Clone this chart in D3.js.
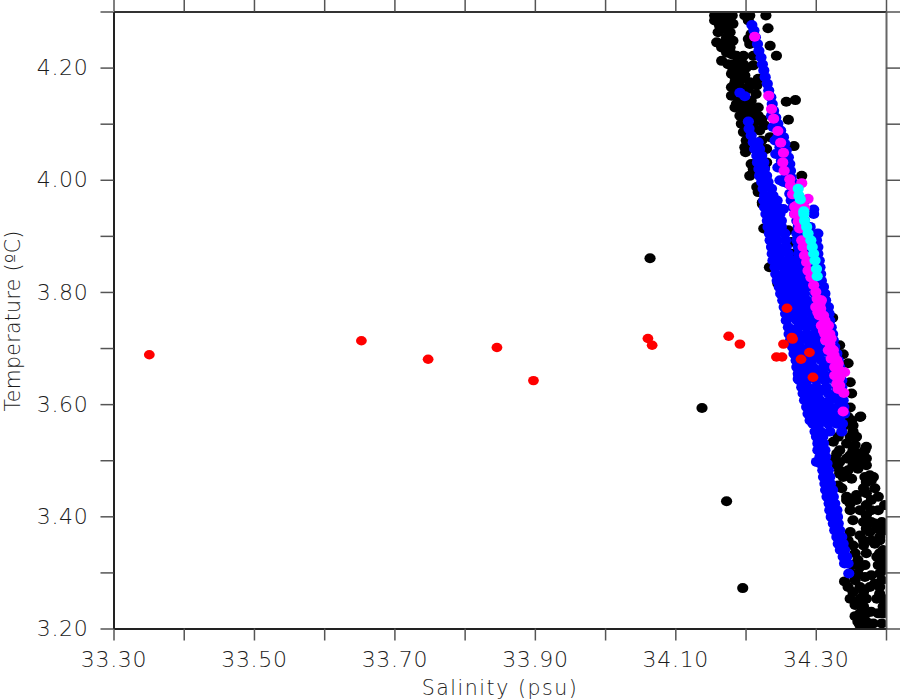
<!DOCTYPE html>
<html><head><meta charset="utf-8">
<style>html,body{margin:0;padding:0;background:#fff}svg{display:block}
.tick text{font-family:"DejaVu Sans",sans-serif;font-weight:200;font-size:22px;letter-spacing:0.7px;fill:#1c1c1c}
.lab{font-family:"DejaVu Sans",sans-serif;font-weight:200;font-size:20.5px;fill:#1c1c1c}
</style>
<script src="https://cdn.jsdelivr.net/npm/d3@7"></script>
</head><body><div id="c"></div>
<script>
const xTicks=[33.3,33.4,33.5,33.6,33.7,33.8,33.9,34.0,34.1,34.2,34.3,34.4];
const yTicks=[3.2,3.3,3.4,3.5,3.6,3.7,3.8,3.9,4.0,4.1,4.2,4.3];
const xLabelled=[33.3,33.5,33.7,33.9,34.1,34.3];
const yLabelled=[3.2,3.4,3.6,3.8,4.0,4.2];
const black=[[34.064,3.860],[34.138,3.593],[34.173,3.427],[34.196,3.272],
[34.156,4.293],[34.166,4.293],[34.175,4.293],[34.181,4.293],[34.199,4.293],[34.206,4.293],[34.229,4.293],[34.156,4.284],[34.168,4.284],[34.178,4.284],[34.204,4.284],[34.232,4.270],[34.161,4.263],[34.170,4.269],[34.178,4.263],[34.173,4.254],[34.159,4.245],[34.182,4.248],[34.170,4.245],[34.206,4.242],[34.235,4.239],[34.244,4.221],[34.173,4.227],[34.180,4.224],[34.197,4.221],[34.166,4.212],[34.182,4.206],[34.197,4.206],[34.211,4.221],[34.180,4.189],[34.192,4.195],[34.199,4.186],[34.185,4.174],[34.211,4.204],[34.218,4.180],[34.204,4.162],[34.215,4.153],[34.180,4.150],[34.194,4.165],[34.185,4.129],[34.211,4.126],[34.218,4.114],[34.258,4.139],[34.271,4.142],[34.261,4.107],[34.192,4.114],[34.194,4.100],[34.213,4.091],[34.197,4.085],[34.223,4.070],[34.235,4.076],[34.227,4.097],[34.200,4.049],[34.230,4.055],[34.269,4.060],[34.230,4.031],[34.206,4.007],[34.280,4.007],[34.218,3.978],[34.224,3.960],[34.208,4.028],[34.192,4.141],
[34.163,4.275],[34.173,4.278],[34.182,4.278],[34.208,4.260],[34.204,4.251],[34.166,4.236],[34.178,4.236],[34.187,4.221],[34.175,4.206],[34.189,4.206],[34.201,4.200],[34.182,4.198],[34.185,4.183],[34.194,4.180],[34.206,4.174],[34.216,4.168],[34.187,4.162],[34.180,4.165],[34.199,4.135],[34.208,4.141],[34.218,4.129],[34.187,4.135],[34.197,4.123],[34.206,4.114],[34.199,4.102],[34.216,4.105],[34.223,4.108],[34.220,4.088],[34.206,4.088],[34.201,4.070],[34.220,4.055],[34.199,4.058],[34.211,4.019],[34.227,4.022],[34.223,4.046],[34.216,3.987],
[34.224,3.957],[34.226,3.913],[34.261,3.910],[34.265,3.889],[34.268,3.868],[34.234,3.844],[34.246,3.815],[34.324,3.754],[34.334,3.705],[34.339,3.689],[34.346,3.673],[34.349,3.639],[34.351,3.619],[34.349,3.594],[34.364,3.578],[34.346,3.577],
[34.351,3.571],[34.353,3.551],[34.363,3.577],[34.344,3.530],[34.356,3.527],[34.372,3.524],[34.325,3.533],[34.330,3.512],[34.349,3.509],[34.363,3.512],[34.334,3.497],[34.353,3.497],[34.365,3.497],[34.334,3.482],[34.346,3.482],[34.360,3.485],[34.377,3.473],[34.334,3.476],[34.351,3.467],[34.372,3.461],[34.379,3.464],[34.332,3.455],[34.344,3.435],[34.358,3.438],[34.372,3.441],[34.389,3.435],[34.349,3.423],[34.372,3.420],[34.398,3.420],[34.353,3.393],[34.372,3.402],[34.384,3.387],[34.394,3.384],[34.349,3.372],[34.363,3.366],[34.377,3.372],[34.391,3.363],[34.398,3.375],[34.353,3.348],[34.368,3.348],[34.384,3.351],[34.396,3.340],[34.360,3.322],[34.387,3.328],[34.398,3.319],[34.363,3.310],[34.379,3.295],[34.370,3.292],[34.396,3.304],[34.341,3.284],[34.356,3.286],[34.384,3.280],[34.394,3.286],[34.353,3.265],[34.368,3.265],[34.391,3.262],[34.356,3.242],[34.379,3.230],[34.368,3.239],[34.396,3.239],[34.356,3.222],[34.368,3.218],[34.394,3.209],[34.382,3.209],[34.363,3.206],[34.375,3.203],
[34.341,3.562],[34.353,3.562],[34.332,3.542],[34.349,3.542],[34.358,3.542],[34.334,3.518],[34.353,3.518],[34.370,3.518],[34.327,3.503],[34.344,3.503],[34.360,3.503],[34.372,3.503],[34.330,3.491],[34.353,3.491],[34.372,3.491],[34.339,3.470],[34.370,3.470],[34.382,3.470],[34.337,3.450],[34.368,3.450],[34.384,3.450],[34.358,3.429],[34.379,3.429],[34.344,3.429],[34.349,3.411],[34.363,3.411],[34.379,3.411],[34.389,3.411],[34.368,3.390],[34.379,3.390],[34.394,3.390],[34.372,3.378],[34.387,3.378],[34.398,3.378],[34.346,3.357],[34.368,3.357],[34.379,3.357],[34.391,3.357],[34.356,3.334],[34.372,3.334],[34.391,3.334],[34.398,3.334],[34.353,3.313],[34.370,3.313],[34.389,3.313],[34.398,3.313],[34.349,3.298],[34.360,3.298],[34.391,3.298],[34.346,3.274],[34.363,3.274],[34.377,3.274],[34.391,3.274],[34.349,3.253],[34.363,3.253],[34.372,3.253],[34.387,3.253],[34.396,3.253],[34.363,3.227],[34.372,3.227],[34.389,3.227],[34.396,3.227],[34.360,3.212],[34.372,3.212]];
const blueRowTemps=[3.963,3.951,3.939,3.927,3.916,3.904,3.892,3.880,3.868,3.856,3.844,3.832,3.820,3.809,3.797,3.785,3.773,3.761,3.749,3.737,3.725,3.714,3.702,3.690,3.678,3.666,3.654,3.642,3.630,3.619,3.607,3.595,3.583,3.571,
3.589,3.577,3.565,3.551,3.542,3.530,3.518,3.506,3.494,3.482,3.470,3.458,3.447,3.435,3.423,3.411,3.399,3.387,3.375,3.363,3.351,3.340,3.328,3.316,3.298];
const blueRowSal=[[34.226,34.234,34.241,34.265,34.275,34.284],[34.227,34.237,34.246,34.268],[34.229,34.239,34.249,34.270,34.297],[34.231,34.242,34.251,34.273,34.284],[34.232,34.242,34.251,34.275,34.292],[34.234,34.244,34.256,34.277,34.292,34.303,34.273],[34.235,34.245,34.257,34.273,34.280,34.294,34.301],[34.237,34.246,34.258,34.275,34.282,34.294,34.303],[34.238,34.249,34.261,34.276,34.284,34.296,34.303],[34.239,34.251,34.262,34.268,34.277,34.287,34.299,34.305],[34.242,34.254,34.265,34.272,34.280,34.289,34.301,34.306],[34.243,34.255,34.265,34.272,34.282,34.292,34.303,34.307],[34.245,34.256,34.268,34.275,34.284,34.294,34.308],[34.248,34.258,34.270,34.276,34.287,34.296,34.311],[34.250,34.261,34.273,34.284,34.299,34.313],[34.253,34.263,34.275,34.287,34.301,34.314],[34.255,34.268,34.280,34.292,34.306,34.318],[34.257,34.270,34.282,34.294,34.308,34.319],[34.258,34.273,34.284,34.296,34.311,34.320],[34.261,34.275,34.287,34.299,34.313,34.322],[34.262,34.275,34.287,34.299,34.313,34.324],[34.264,34.277,34.289,34.301,34.315,34.325],[34.267,34.278,34.291,34.303,34.318,34.327],[34.269,34.280,34.292,34.306,34.320,34.330],[34.272,34.282,34.294,34.308,34.322,34.332],[34.273,34.284,34.296,34.311,34.322,34.334],[34.275,34.284,34.299,34.311,34.325,34.334],[34.277,34.287,34.301,34.313,34.327,34.337],[34.280,34.289,34.301,34.315,34.330,34.337],[34.282,34.292,34.303,34.318,34.330,34.339],[34.284,34.294,34.306,34.320,34.332,34.339],[34.287,34.295,34.306,34.320,34.332,34.340],[34.289,34.297,34.311,34.322,34.334,34.341],[34.292,34.299,34.313,34.325,34.334],
[34.292,34.301,34.311,34.320,34.330,34.337],[34.294,34.302,34.315,34.325,34.334],[34.296,34.305,34.318,34.330,34.338],[34.299,34.307,34.320,34.337],[34.301,34.310],[34.303,34.311],[34.303,34.313],[34.306,34.314],[34.307,34.316],[34.310,34.318],[34.311,34.320],[34.313,34.321],[34.314,34.324],[34.316,34.325],[34.319,34.327],[34.320,34.330],[34.322,34.331],[34.325,34.332],[34.327,34.334],[34.330,34.337],[34.332,34.339],[34.335,34.341],[34.339,34.344],[34.341,34.346],[34.347]];
const blueExtra=[[34.209,4.276],[34.212,4.266],[34.214,4.254],[34.217,4.242],[34.219,4.230],[34.222,4.218],[34.224,4.206],[34.226,4.195],[34.228,4.183],[34.231,4.171],[34.233,4.159],[34.236,4.147],[34.238,4.135],[34.240,4.123],[34.243,4.111],[34.246,4.100],[34.250,4.088],[34.254,4.076],[34.256,4.064],[34.258,4.052],[34.261,4.040],[34.263,4.028],[34.264,4.016],[34.265,4.004],[34.269,3.993],[34.237,4.114],[34.239,4.094],[34.242,4.070],[34.243,4.046],[34.246,4.022],[34.249,3.999],[34.254,3.996],[34.297,3.947],
[34.192,4.155],[34.199,4.149],[34.204,4.104],[34.205,4.091],[34.208,4.079],[34.211,4.067],[34.213,4.055],[34.216,4.043],[34.217,4.031],[34.219,4.019],[34.220,4.007],[34.230,4.007],[34.223,3.996],[34.232,3.996],[34.225,3.984],[34.237,3.984],[34.227,3.972],[34.239,3.972],[34.230,3.960],[34.239,3.960],[34.245,3.963],[34.231,3.948],[34.245,3.948],[34.254,3.948],[34.275,3.645],[34.301,3.497],
[34.218,4.067],[34.220,4.055],[34.223,4.043],[34.226,4.031],[34.227,4.019],[34.246,4.076],[34.249,4.058],[34.251,4.034],[34.256,4.022],[34.258,4.004],[34.261,3.993],[34.268,3.969],[34.263,3.975],
[34.262,3.789],[34.270,3.779],[34.281,3.779],[34.293,3.767],[34.263,3.755],[34.276,3.755],[34.289,3.743],[34.268,3.731],[34.281,3.719],[34.293,3.719],[34.306,3.719],[34.272,3.708],[34.286,3.696],[34.299,3.684],[34.278,3.672],[34.290,3.660],[34.305,3.660],[34.317,3.648],[34.282,3.636],[34.295,3.625],[34.308,3.625],[34.286,3.613],[34.300,3.601],[34.313,3.601],[34.325,3.590]];
const magenta=[[34.213,4.255],[34.233,4.150],[34.237,4.126],[34.240,4.109],[34.246,4.087],[34.250,4.066],[34.254,4.048],[34.253,4.031],[34.255,4.016],[34.263,4.001],[34.264,3.990],[34.280,3.994],[34.267,3.974],[34.289,3.966],[34.282,3.963],[34.270,3.952],[34.284,3.950],
[34.273,3.954],[34.270,3.939],[34.275,3.925],[34.277,3.913],[34.280,3.892],[34.282,3.880],[34.284,3.865],[34.287,3.853],[34.289,3.838],[34.293,3.826],[34.297,3.812],[34.300,3.800],[34.302,3.788],[34.300,3.773],[34.308,3.785],[34.307,3.770],[34.311,3.758],[34.305,3.758],[34.308,3.740],[34.318,3.740],[34.313,3.725],[34.320,3.725],[34.314,3.714],[34.320,3.708],[34.318,3.696],[34.325,3.696],[34.322,3.681],[34.330,3.678],[34.330,3.663],[34.341,3.657],[34.334,3.660],[34.327,3.651],[34.334,3.648],[34.330,3.636],[34.332,3.627],[34.340,3.620],[34.339,3.587],
[34.306,3.779],[34.303,3.764],[34.313,3.749],[34.311,3.731],[34.316,3.720],[34.322,3.717],[34.322,3.699],[34.326,3.687],[34.332,3.672],[34.327,3.666],[34.332,3.642],[34.334,3.633]];
const cyan=[[34.275,3.984],[34.276,3.972],[34.278,3.965],[34.283,3.944],[34.283,3.939],[34.284,3.927],[34.287,3.916],[34.289,3.904],[34.293,3.892],[34.295,3.880],[34.297,3.868],[34.299,3.856],[34.301,3.841],[34.302,3.828]];
const red=[[33.351,3.688],[33.653,3.713],[33.748,3.680],[33.846,3.701],[33.898,3.642],[34.061,3.717],[34.067,3.705],[34.176,3.721],[34.192,3.707],[34.259,3.771],[34.266,3.719],[34.267,3.716],[34.254,3.707],[34.244,3.684],[34.252,3.684],[34.279,3.680],[34.291,3.692],[34.296,3.648]];

const blue=blueRowTemps.flatMap((t,i)=>blueRowSal[i].map(s=>[s,t])).concat(blueExtra);
const W=900,H=700,L=113.5,R=886,T=11.5,B=628.5;
const x=d3.scaleLinear().domain([33.3,34.4]).range([L,R]);
const y=d3.scaleLinear().domain([3.2,4.3]).range([B,T]);
const svg=d3.select("#c").append("svg").attr("width",W).attr("height",H);
svg.append("defs").append("clipPath").attr("id","plot").append("rect").attr("x",L).attr("y",T).attr("width",R-L).attr("height",B-T);
const g=svg.append("g").attr("clip-path","url(#plot)");
function dots(data,color,rx,ry){g.append("g").selectAll("ellipse").data(data).join("ellipse")
 .attr("cx",d=>x(d[0])).attr("cy",d=>y(d[1])).attr("rx",rx).attr("ry",ry).attr("fill",color);}
dots(black,"#000",5.6,5);
dots(blue,"#0000ff",5.6,5);
dots(magenta,"#ff00ff",5.6,5);
dots(cyan,"#00ffff",5.6,5);
dots(red,"#ff0000",5.4,4.7);
const fx=d=>xLabelled.some(v=>Math.abs(v-d)<1e-6)?d3.format(".2f")(d):"";
const fy=d=>yLabelled.some(v=>Math.abs(v-d)<1e-6)?d3.format(".2f")(d):"";
function style(a,col,w){a.select(".domain").attr("stroke",col).attr("stroke-width",w);a.selectAll(".tick line").attr("stroke","#555").attr("stroke-width",1.5);}
svg.append("g").attr("transform",`translate(0,${T})`).call(d3.axisTop(x).tickValues(xTicks).tickSize(12).tickSizeOuter(0).tickFormat("")).call(style,"#333",2);
svg.append("g").attr("transform",`translate(${R},0)`).call(d3.axisRight(y).tickValues(yTicks).tickSize(14).tickSizeOuter(0).tickFormat("")).call(style,"#666",2);
const ax=svg.append("g").attr("transform",`translate(0,${B})`).call(d3.axisBottom(x).tickValues(xTicks).tickSize(12).tickSizeOuter(0).tickFormat(fx)).call(style,"#222",2);
ax.selectAll(".tick text").attr("y",23).attr("dy","0.71em").attr("text-anchor","middle");
const ay=svg.append("g").attr("transform",`translate(${L},0)`).call(d3.axisLeft(y).tickValues(yTicks).tickSize(13).tickSizeOuter(0).tickFormat(fy)).call(style,"#222",2);
ay.selectAll(".tick text").attr("x",-25);
svg.append("text").attr("class","lab").attr("x",500).attr("y",695).attr("text-anchor","middle").attr("letter-spacing","1.55px").text("Salinity (psu)");
svg.append("text").attr("class","lab").attr("transform","translate(20,321) rotate(-90)").attr("text-anchor","middle").attr("letter-spacing","0.3px").text("Temperature (ºC)");
</script></body></html>
